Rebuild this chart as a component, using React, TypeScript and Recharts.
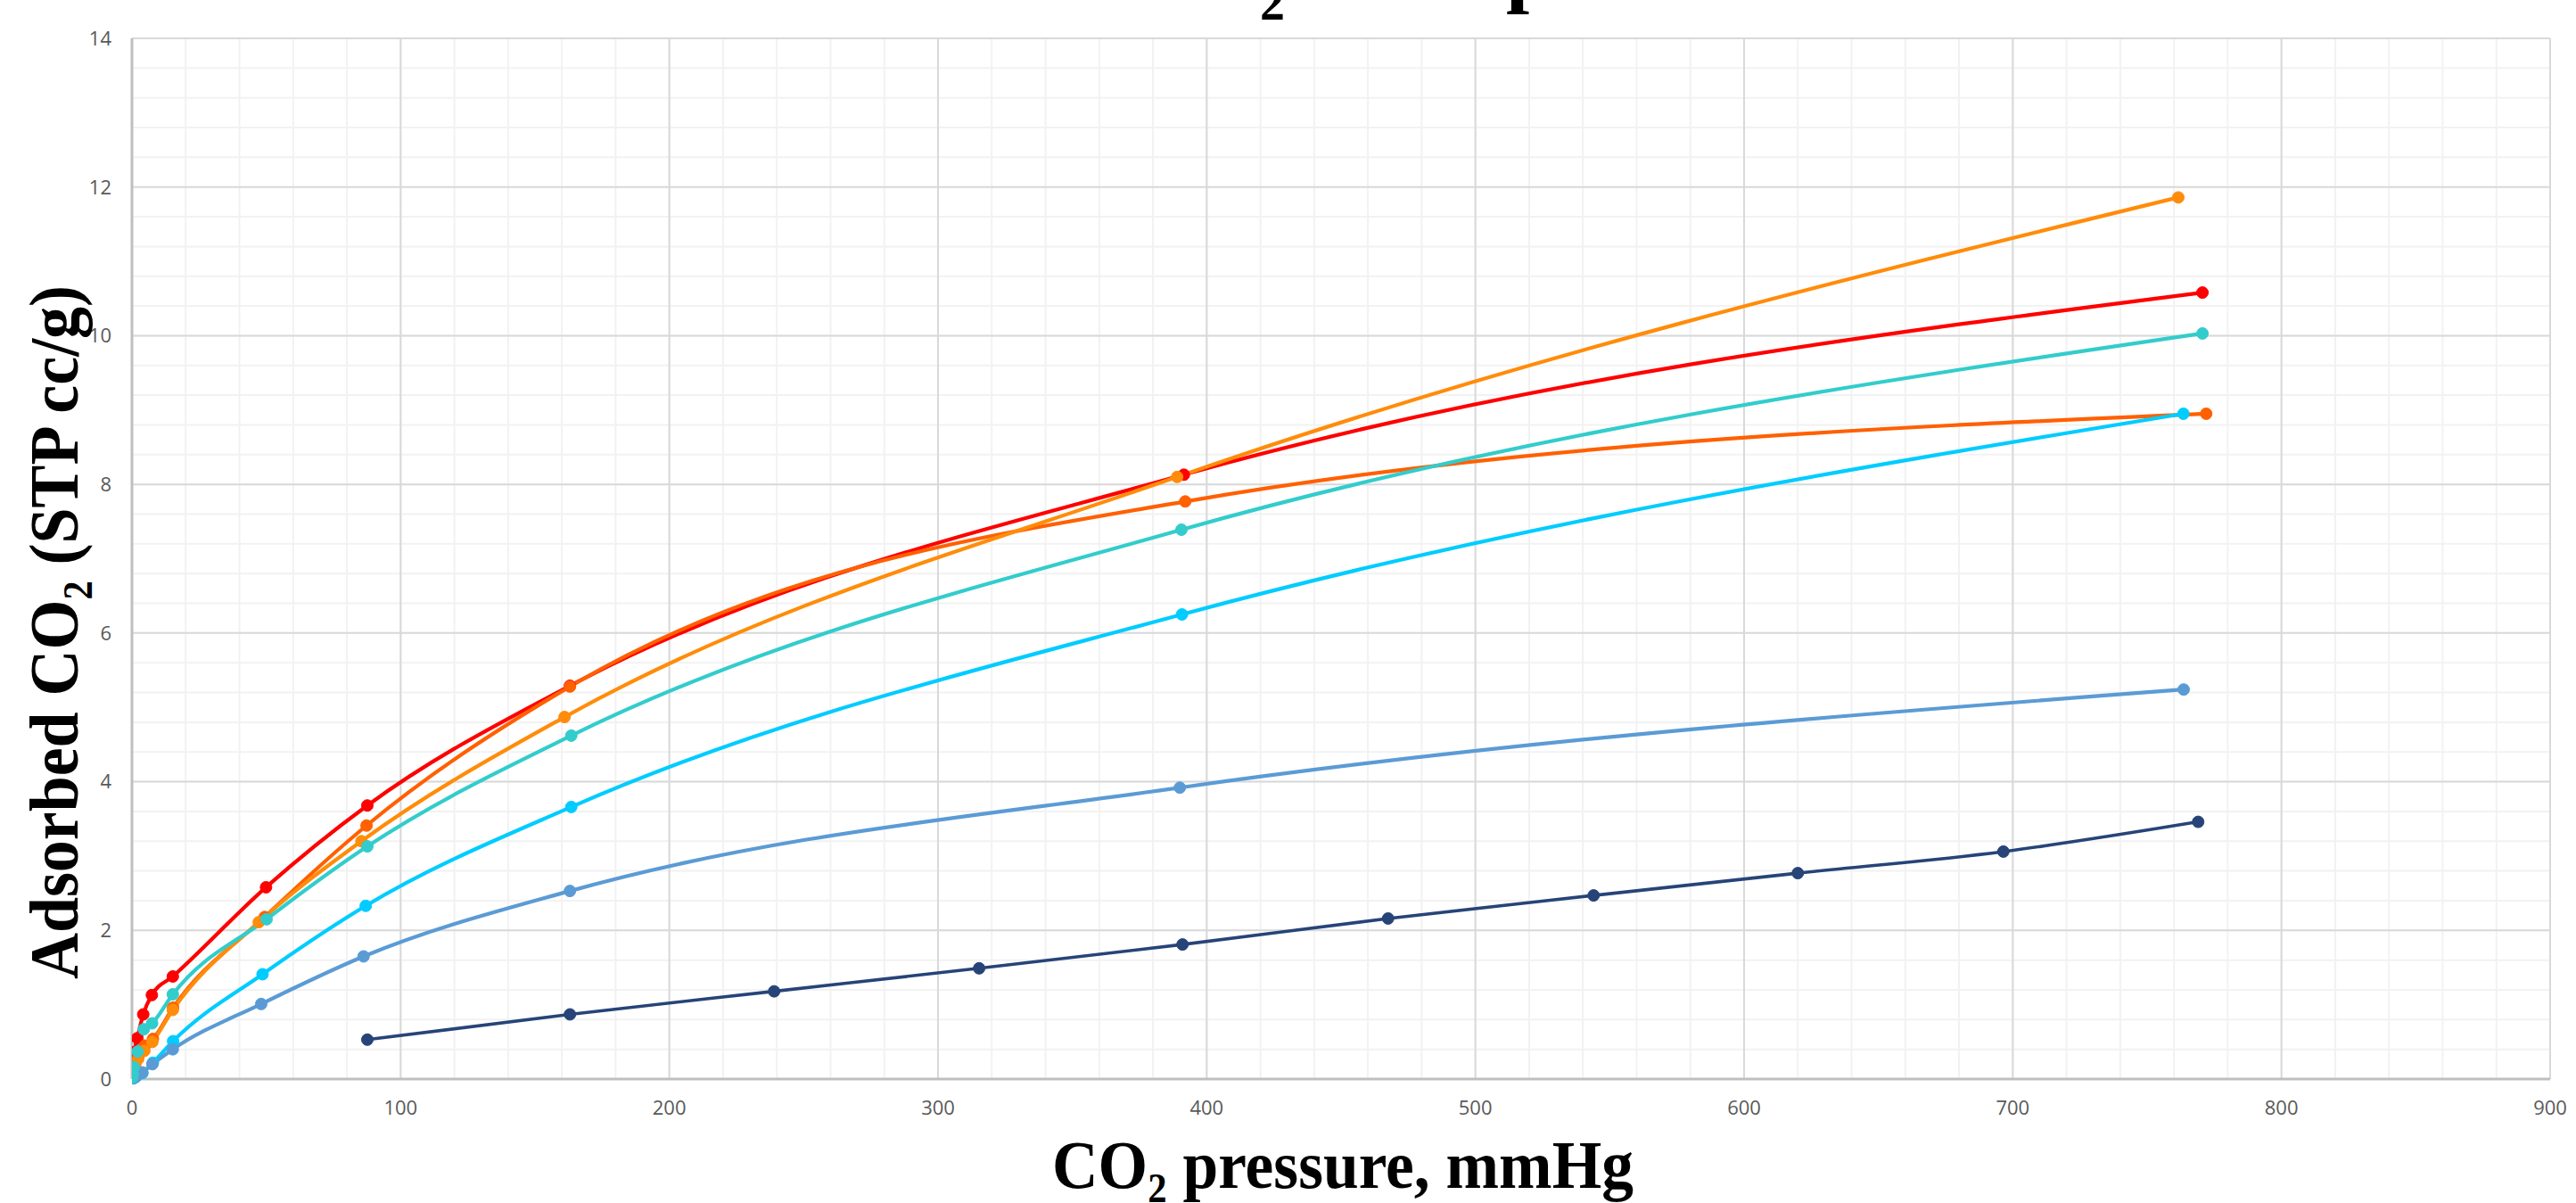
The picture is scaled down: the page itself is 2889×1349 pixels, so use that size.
import { LineChart, Line, XAxis, YAxis, CartesianGrid } from 'recharts'

// CO2 pressure (mmHg) and uptake (STP cc/g), one pair of arrays per sample
const redP = [0.05, 0.15, 0.7, 2, 4.2, 7.4, 15.2, 49.9, 87.6, 163, 391.5, 770.6]
const redA = [0.1, 0.24, 0.36, 0.55, 0.87, 1.13, 1.38, 2.58, 3.68, 5.29, 8.13, 10.58]
const orangeRedP = [0.1, 0.5, 1.2, 2.5, 4.8, 7.8, 15.3, 49.4, 87.3, 163, 392, 772]
const orangeRedA = [0.03, 0.1, 0.2, 0.32, 0.45, 0.54, 0.96, 2.18, 3.41, 5.28, 7.77, 8.95]
const orangeP = [0.1, 0.5, 1.1, 2.3, 4.6, 7.6, 15.2, 47.2, 85.4, 161, 389, 761.6]
const orangeA = [0.02, 0.08, 0.16, 0.27, 0.38, 0.5, 0.93, 2.11, 3.2, 4.87, 8.1, 11.86]
const turqP = [0.1, 0.3, 0.7, 2.1, 4.4, 7.5, 15.2, 50.1, 87.6, 163.5, 390.6, 770.6]
const turqA = [0.02, 0.06, 0.16, 0.37, 0.67, 0.75, 1.14, 2.15, 3.13, 4.62, 7.39, 10.03]
const cyanP = [0.5, 1.5, 3.9, 7.8, 15.3, 48.6, 87, 163.5, 390.8, 763.5]
const cyanA = [0.01, 0.03, 0.08, 0.22, 0.51, 1.41, 2.33, 3.66, 6.25, 8.95]
const steelP = [0.5, 1.5, 3.8, 7.6, 15.2, 48.1, 86.2, 163, 390, 763.6]
const steelA = [0.01, 0.03, 0.09, 0.2, 0.4, 1.01, 1.65, 2.53, 3.92, 5.24]
const navyP = [87.6, 163, 239, 315.3, 391, 467.5, 544, 620, 696.5, 769]
const navyA = [0.53, 0.87, 1.18, 1.49, 1.81, 2.16, 2.47, 2.77, 3.06, 3.46]

const xTicks = [0, 100, 200, 300, 400, 500, 600, 700, 800, 900]
const yTicks = [0, 2, 4, 6, 8, 10, 12, 14]
const xMinor = Array.from({ length: 46 }, (_, i) => i * 20)
const yMinor = Array.from({ length: 36 }, (_, i) => +(i * 0.4).toFixed(1))

const zip = (p: number[], a: number[]) => p.map((x, i) => ({ x, y: a[i] }))

const SERIES = [
  { id: 'navy', color: '#264478', data: zip(navyP, navyA), w: 3.6 },
  { id: 'red', color: '#FF0000', data: zip(redP, redA), w: 4.2 },
  { id: 'orangeRed', color: '#FF6000', data: zip(orangeRedP, orangeRedA), w: 4.2 },
  { id: 'orange', color: '#FF8C0A', data: zip(orangeP, orangeA), w: 4.2 },
  { id: 'cyan', color: '#00CCFF', data: zip(cyanP, cyanA), w: 4.2 },
  { id: 'steel', color: '#5B9BD5', data: zip(steelP, steelA), w: 4.2 },
  { id: 'turq', color: '#33CCCC', data: zip(turqP, turqA), w: 4.2 },
]

const tick = { fontSize: 22, fill: '#595959', fontFamily: 'Open Sans' }
const titleFont = { fontFamily: 'Liberation Serif', fontWeight: 700, fill: '#000' }

export default function App() {
  return (
    <div style={{ position: 'absolute', left: 0, top: 0, width: 2889, height: 1349 }}>
      <LineChart width={2889} height={1349} margin={{ top: 43, right: 29, left: 88, bottom: 79 }}>
        <CartesianGrid stroke="#f2f2f2" strokeWidth={2}
          horizontalValues={yMinor} verticalValues={xMinor} />
        <CartesianGrid stroke="#d9d9d9" strokeWidth={2} />
        <XAxis dataKey="x" type="number" domain={[0, 900]} ticks={xTicks}
          allowDataOverflow tick={tick} tickLine={false} tickMargin={18}
          axisLine={{ stroke: '#bfbfbf', strokeWidth: 3 }} height={60} />
        <YAxis type="number" domain={[0, 14]} ticks={yTicks} tick={tick}
          tickLine={false} tickMargin={17} width={60}
          axisLine={{ stroke: '#bfbfbf', strokeWidth: 3 }} />
        {SERIES.map(s => (
          <Line key={s.id} data={s.data} dataKey="y" type="monotone"
            stroke={s.color} strokeWidth={s.w} isAnimationActive={false}
            dot={{ r: 6.5, fill: s.color, stroke: s.color, strokeWidth: 1 }}
            activeDot={false} />
        ))}
      </LineChart>
      <svg width={2889} height={1349}
        style={{ position: 'absolute', left: 0, top: 0, pointerEvents: 'none' }}>
        {/* chart title sits mostly above the page edge, only descenders show */}
        <text x={1272} y={-4} fontSize={94} {...titleFont}>
          CO<tspan fontSize={56} dy={26}>2</tspan>
          <tspan dy={-26}> adsorption isotherms</tspan>
        </text>
        <text x={1506} y={1332} fontSize={77} textAnchor="middle"
          textLength={652} lengthAdjust="spacingAndGlyphs" {...titleFont}>
          CO<tspan fontSize={46} dy={16}>2</tspan>
          <tspan dy={-16}> pressure, mmHg</tspan>
        </text>
        <text transform="translate(87,709) rotate(-90)" fontSize={78} textAnchor="middle"
          textLength={778} lengthAdjust="spacingAndGlyphs" {...titleFont}>
          Adsorbed CO<tspan fontSize={46} dy={16}>2</tspan>
          <tspan dy={-16}> (STP cc/g)</tspan>
        </text>
      </svg>
    </div>
  )
}
